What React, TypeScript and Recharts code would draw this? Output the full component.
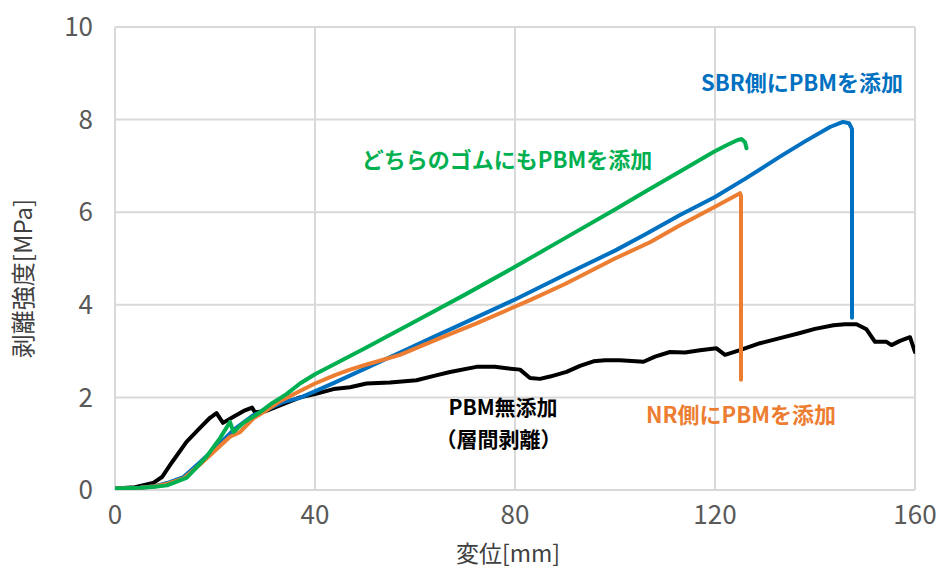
import React from 'react';
import { LineChart, Line, XAxis, YAxis, CartesianGrid, ReferenceDot, Label } from 'recharts';

const xTicks = [0, 40, 80, 120, 160];
const yTicks = [0, 2, 4, 6, 8, 10];

const blackX = [0, 4, 7.6, 9.4, 11.4, 14.3, 17, 19, 20.3, 21.6, 23.7, 26, 27.4, 28, 30, 33, 37, 40, 43.7, 47, 50.3, 55, 60.3, 64, 67, 72.3, 76, 78.3, 81, 83, 85, 87, 90.3, 93, 95.7, 98, 101, 105.7, 108, 111, 114, 117, 120.3, 122, 125, 129, 133, 137, 140, 143.7, 146, 148.3, 150.3, 152, 154.3, 155.3, 157, 159, 160];
const blackY = [0.03, 0.06, 0.15, 0.28, 0.6, 1.04, 1.34, 1.56, 1.66, 1.45, 1.58, 1.72, 1.78, 1.68, 1.7, 1.83, 2.0, 2.07, 2.18, 2.22, 2.3, 2.32, 2.37, 2.47, 2.55, 2.66, 2.66, 2.63, 2.6, 2.42, 2.4, 2.45, 2.55, 2.68, 2.78, 2.8, 2.8, 2.77, 2.88, 2.98, 2.97, 3.02, 3.06, 2.92, 3.02, 3.17, 3.28, 3.39, 3.48, 3.56, 3.58, 3.58, 3.47, 3.2, 3.2, 3.13, 3.22, 3.3, 2.98];

const blueX = [0, 5, 8, 10.4, 13.7, 17, 20.3, 23.7, 27.7, 30, 33.7, 37, 43.7, 50, 57, 63, 70.3, 79.7, 90, 100, 106, 113, 120, 126, 133, 138, 143, 145.6, 146.8, 147.4, 147.4];
const blueY = [0.03, 0.05, 0.08, 0.15, 0.28, 0.6, 0.93, 1.3, 1.62, 1.72, 1.9, 1.99, 2.31, 2.62, 2.97, 3.27, 3.63, 4.1, 4.65, 5.17, 5.52, 5.94, 6.33, 6.72, 7.2, 7.53, 7.84, 7.95, 7.92, 7.8, 3.72];

const orangeX = [0, 5, 8, 10.4, 13.7, 17, 20.3, 23, 25, 27.7, 30, 33, 37, 40, 44, 47, 50, 57, 65, 72.3, 83, 90, 100, 107, 113, 120, 125, 125.2, 125.2];
const orangeY = [0.03, 0.05, 0.08, 0.13, 0.25, 0.55, 0.88, 1.15, 1.25, 1.55, 1.7, 1.92, 2.14, 2.3, 2.48, 2.6, 2.7, 2.92, 3.28, 3.6, 4.1, 4.45, 5.0, 5.35, 5.72, 6.12, 6.41, 6.35, 2.38];

const greenX = [0, 5, 8, 10.4, 14.3, 16, 18.3, 21, 23, 23.7, 25.7, 29, 31.5, 34.3, 37, 40, 50, 60, 70, 80, 90, 100, 106, 113, 119.7, 122, 124.3, 125.3, 126, 126.3];
const greenY = [0.03, 0.05, 0.07, 0.1, 0.26, 0.45, 0.72, 1.12, 1.47, 1.25, 1.45, 1.68, 1.88, 2.07, 2.3, 2.5, 3.06, 3.64, 4.22, 4.82, 5.44, 6.06, 6.44, 6.88, 7.3, 7.43, 7.55, 7.58, 7.51, 7.38];

const labelTexts = ['SBR側にPBMを添加', 'どちらのゴムにもPBMを添加', 'NR側にPBMを添加', 'PBM無添加', '（層間剥離）'];
const labelX = [137.4, 78.4, 125.2, 77.6, 76.7];
const labelY = [8.79, 7.13, 1.62, 1.78, 1.1];
const labelColors = ['#0070C0', '#00B050', '#ED7D31', '#000000', '#000000'];
const labelSizes = [22, 22, 22, 21, 21];

const toData = (xs: number[], ys: number[]) => xs.map((x, i) => ({ x, y: ys[i] }));

const blackData = toData(blackX, blackY);
const blueData = toData(blueX, blueY);
const orangeData = toData(orangeX, orangeY);
const greenData = toData(greenX, greenY);

const FONT = '"Noto Sans CJK JP", "Noto Sans", sans-serif';

export default function App() {
  return (
    <div style={{ position: 'absolute', left: 0, top: 0, width: 941, height: 573, background: '#fff' }}>
      <LineChart width={941} height={573} margin={{ top: 27, right: 26, bottom: 0, left: 0 }}>
        <CartesianGrid stroke="#d9d9d9" strokeWidth={2} />
        <XAxis
          type="number"
          dataKey="x"
          domain={[0, 160]}
          ticks={xTicks}
          allowDataOverflow
          axisLine={false}
          tickLine={false}
          height={83}
          tickMargin={10}
          tick={{ fill: '#595959', fontSize: 26, fontFamily: FONT }}
        >
          <Label
            content={(props: any) => {
              const vb = props.viewBox || { x: 115, y: 490, width: 800, height: 83 };
              return (
                <text x={vb.x + vb.width / 2 - 7} y={vb.y + 72} textAnchor="middle" fill="#404040" fontSize={23} fontFamily={FONT}>
                  変位[mm]
                </text>
              );
            }}
          />
        </XAxis>
        <YAxis
          type="number"
          domain={[0, 10]}
          ticks={yTicks}
          allowDataOverflow
          axisLine={false}
          tickLine={false}
          width={115}
          tickMargin={16}
          tick={{ fill: '#595959', fontSize: 26, fontFamily: FONT }}
        >
          <Label
            content={(props: any) => {
              const vb = props.viewBox || { x: 0, y: 27, width: 115, height: 463 };
              const cx = vb.x + 21;
              const cy = vb.y + vb.height / 2 + 20;
              return (
                <text x={cx} y={cy} transform={`rotate(-90, ${cx}, ${cy})`} textAnchor="middle" dominantBaseline="central" fill="#404040" fontSize={24} fontFamily={FONT}>
                  剥離強度[MPa]
                </text>
              );
            }}
          />
        </YAxis>
        <Line data={blackData} dataKey="y" type="linear" stroke="#000000" strokeWidth={4} dot={false} isAnimationActive={false} strokeLinejoin="round" strokeLinecap="round" />
        <Line data={blueData} dataKey="y" type="linear" stroke="#0070C0" strokeWidth={4} dot={false} isAnimationActive={false} strokeLinejoin="round" strokeLinecap="round" />
        <Line data={orangeData} dataKey="y" type="linear" stroke="#ED7D31" strokeWidth={4} dot={false} isAnimationActive={false} strokeLinejoin="round" strokeLinecap="round" />
        <Line data={greenData} dataKey="y" type="linear" stroke="#00B050" strokeWidth={4} dot={false} isAnimationActive={false} strokeLinejoin="round" strokeLinecap="round" />
        {labelTexts.map((t, i) => (
          <ReferenceDot
            key={t}
            x={labelX[i]}
            y={labelY[i]}
            r={0}
            fill="none"
            stroke="none"
            label={{ value: t, position: 'center', fill: labelColors[i], fontSize: labelSizes[i], fontWeight: 'bold', fontFamily: FONT }}
          />
        ))}
      </LineChart>
    </div>
  );
}
